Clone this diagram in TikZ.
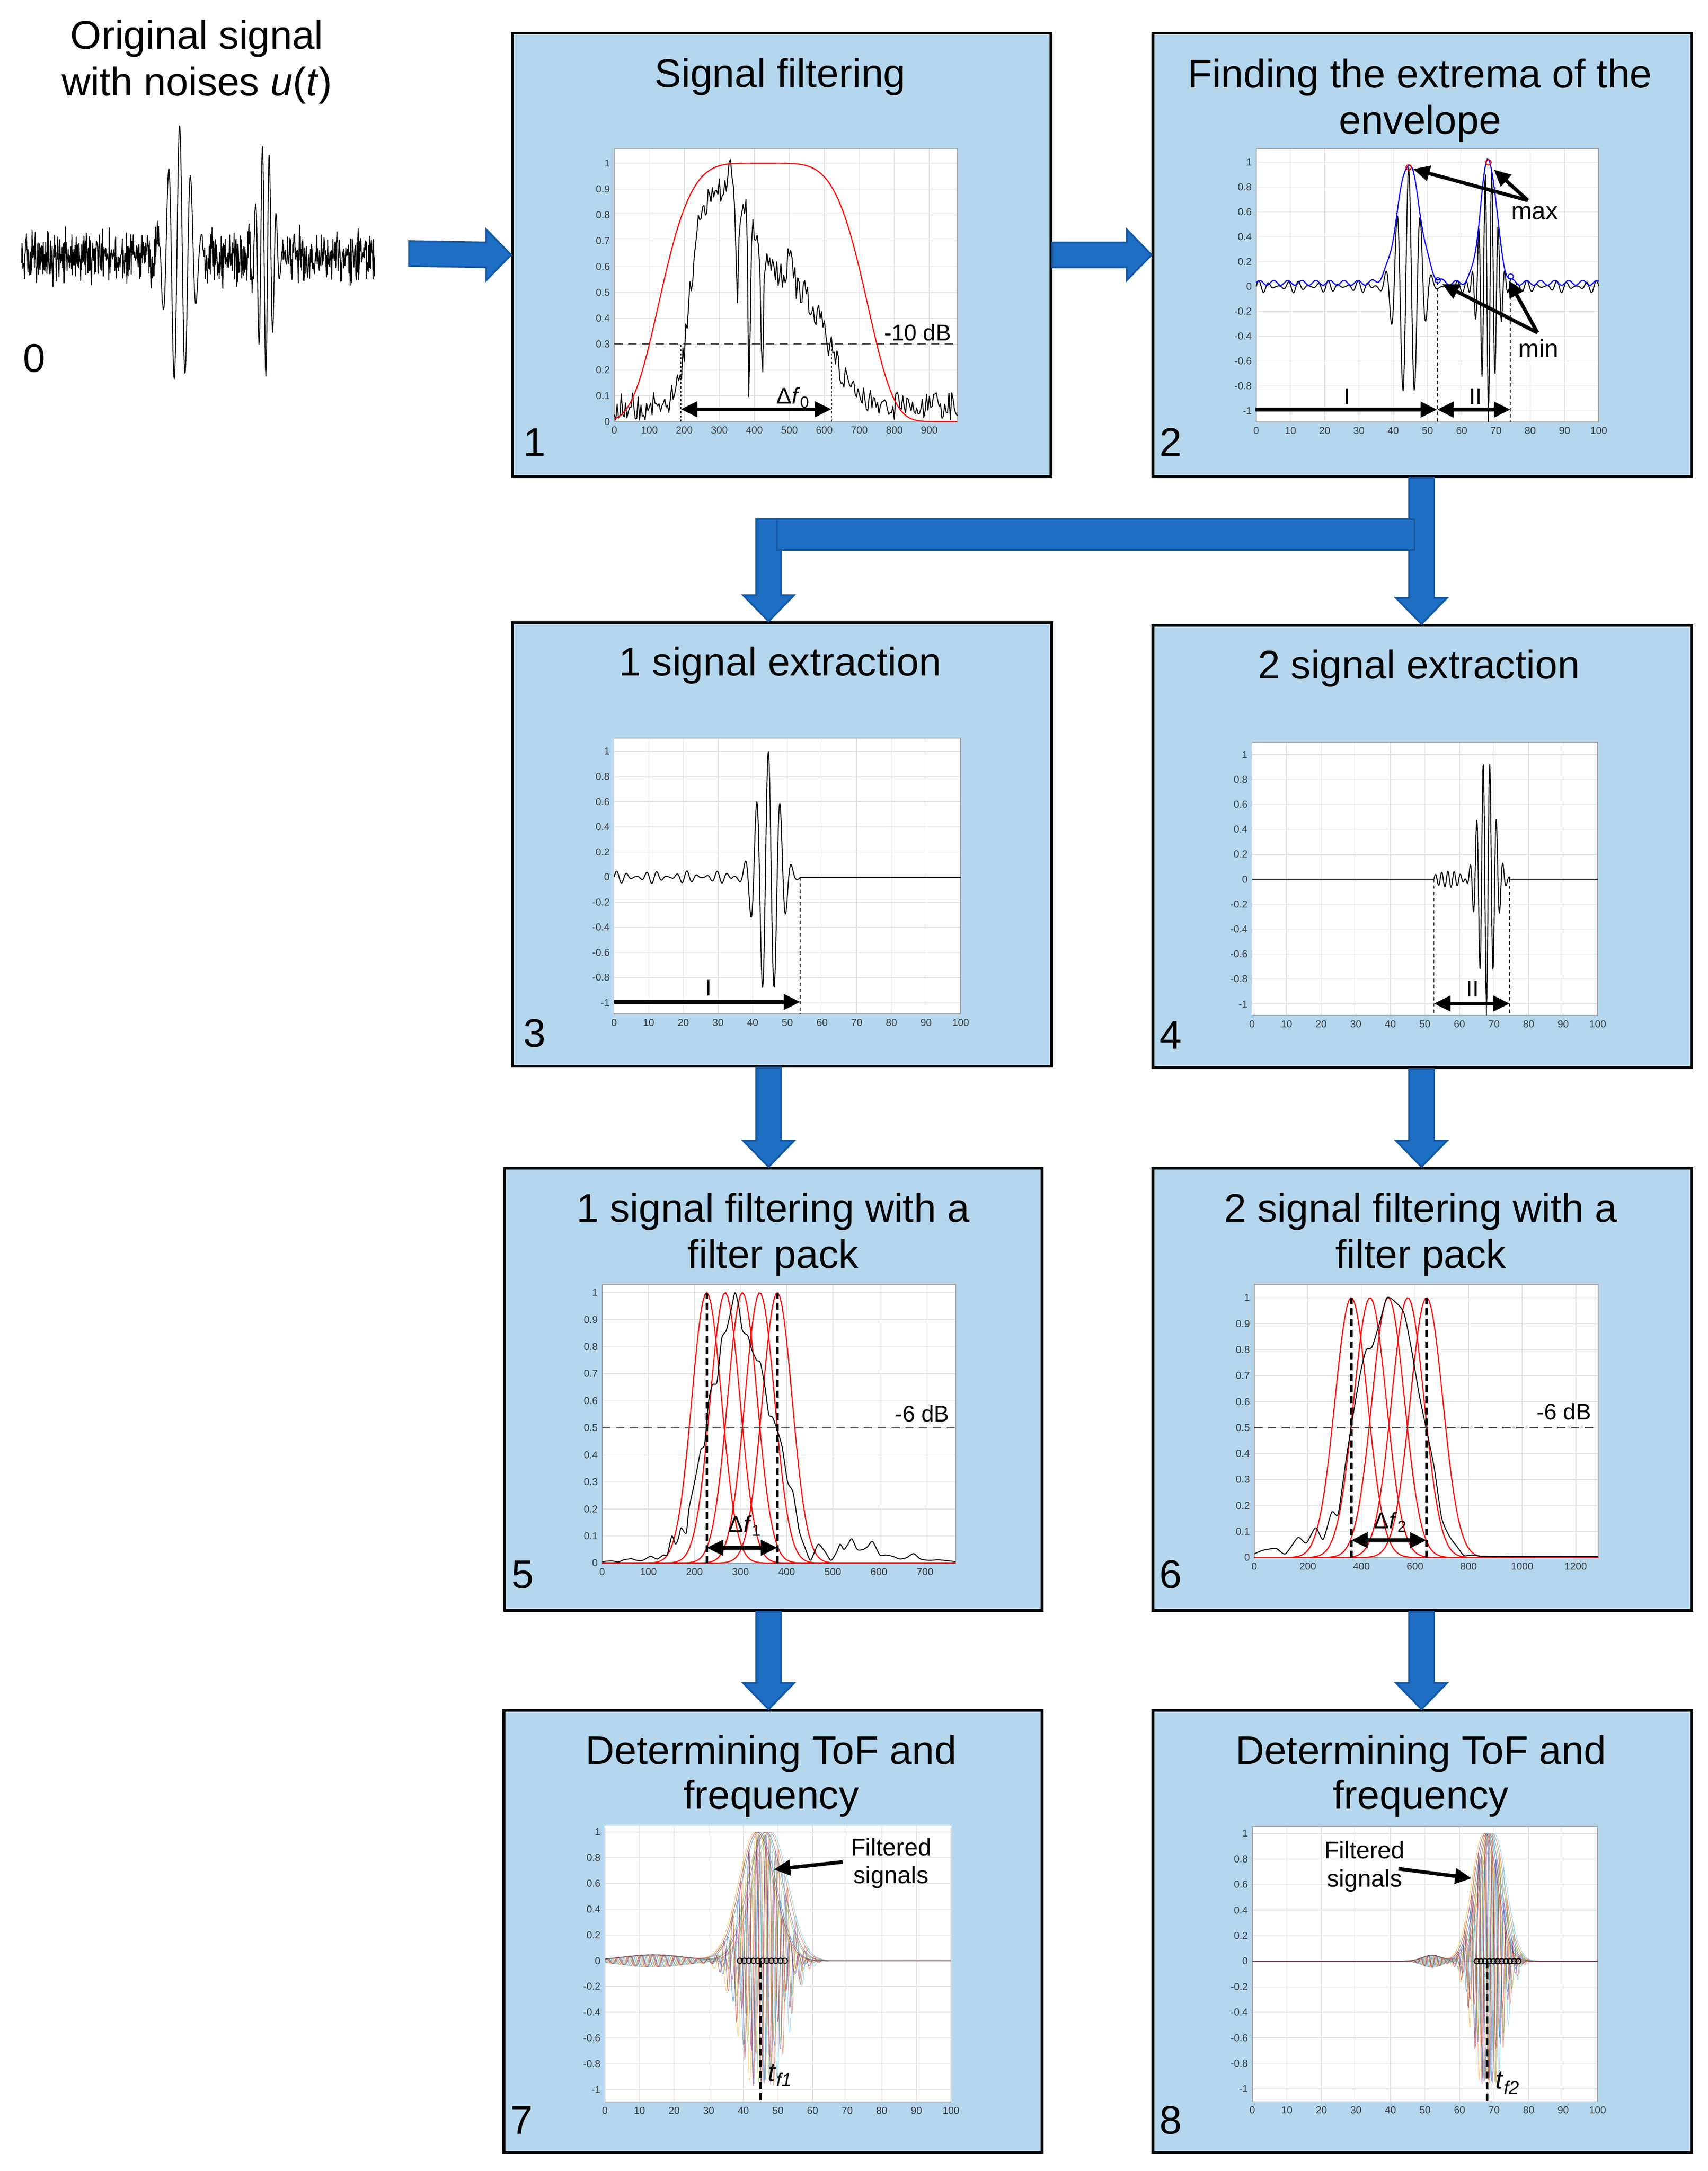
\documentclass[tikz,border=0pt]{standalone}
\usepackage{fontspec}
\setmainfont{Liberation Sans}
\usetikzlibrary{calc,arrows.meta}

\definecolor{boxblue}{RGB}{181,215,238}
\definecolor{arrfill}{RGB}{30,110,196}
\definecolor{arrline}{RGB}{22,88,165}
\definecolor{gridc}{RGB}{226,226,226}
\definecolor{framec}{RGB}{165,165,165}
\definecolor{tickc}{RGB}{55,55,55}
\definecolor{mblue}{rgb}{0,0.447,0.741}
\definecolor{morange}{rgb}{0.85,0.325,0.098}
\definecolor{myellow}{rgb}{0.929,0.694,0.125}
\definecolor{mpurple}{rgb}{0.494,0.184,0.556}
\definecolor{mgreen}{rgb}{0.466,0.674,0.188}
\definecolor{mcyan}{rgb}{0.301,0.745,0.933}
\definecolor{mred}{rgb}{0.635,0.078,0.184}

\tikzset{
  declare function={
    gss(\u)=exp(-1*pow(min(3.6,abs(\u)),2));
    sgm(\u)=1/(1+exp(-1*max(-9,min(9,\u))));
    bone(\x)=gss((\x-44.5)/4.6)*cos((\x-44.5)/3.4*360);
    btwo(\x)=-1*gss((\x-67.8)/3.3)*cos((\x-67.8)/1.9*360);
    nz(\x)=0.05*sin(\x/2.9*360)*(0.55+0.45*sin(\x/9.7*360+40));
    specone(\x)=(0.06+sgm((\x-215)/15)*(0.33*sgm((400-\x)/20)+0.5*sgm((610-\x)/35))+0.12*gss((\x-330)/8)+0.08*gss((\x-500)/12))*(1-0.95*gss((\x-385)/4))*(1-0.75*gss((\x-422)/5))*(1-0.45*gss((\x-352)/5));
    wn(\x)=sgm((116-\x)/1.2)+sgm((\x-148)/1.2)*sgm((184-\x)/1.2)+sgm((\x-206)/1.2);
  },
  stagebox/.style={draw=black, line width=2pt, fill=boxblue, anchor=north west, inner sep=0pt},
  titletext/.style={font=\fontsize{29}{33.5}\selectfont, align=center, inner sep=0pt},
  numtext/.style={font=\fontsize{29}{33}\selectfont, inner sep=0pt, anchor=base},
  blockarrow/.style={fill=arrfill, draw=arrline, line width=1.3pt, line join=miter},
  ticklab/.style={font=\fontsize{7.3}{8}\selectfont, text=tickc, inner xsep=3pt, inner ysep=3.5pt},
  gridline/.style={draw=gridc, line width=0.5pt},
  frameline/.style={draw=framec, line width=0.6pt},
  sig/.style={line width=0.7pt, black, line join=round},
  fsig/.style={line width=0.5pt, opacity=0.5, line join=round},
  fatarrow/.style={line width=2.6pt, -{Triangle[length=12pt,width=11pt]}},
  fatdarrow/.style={line width=2.6pt, {Triangle[length=12pt,width=11pt]}-{Triangle[length=12pt,width=11pt]}},
  annot/.style={font=\fontsize{16.5}{18}\selectfont, inner sep=0pt},
  flab/.style={font=\fontsize{17.5}{20.5}\selectfont, align=center, inner sep=0pt},
  tlab/.style={font=\fontsize{19}{20}\selectfont, inner sep=0pt},
  thindash/.style={line width=0.7pt, dash pattern=on 2.5pt off 2pt},
  thickdash/.style={line width=1.8pt, dash pattern=on 5pt off 3pt},
  levdash/.style={line width=0.9pt, dash pattern=on 6pt off 4pt, black!75},
  dotline/.style={line width=0.7pt, dash pattern=on 1.5pt off 1.5pt},
  mk/.style={circle, draw, inner sep=0pt, minimum size=4pt, line width=0.7pt},
}

\newcommand\plotframe[7]{%
  \fill[white] (#1,#3) rectangle (#2,#4);
  \foreach \tv in {#5} {\draw[gridline] (\tv,#3) -- (\tv,#4);}
  \foreach \tv in {#6} {\draw[gridline] (#1,\tv) -- (#2,\tv);}
  \draw[frameline] (#1,#3) rectangle (#2,#4);
  \foreach \tv [count=\ii] in {#5} {\node[ticklab, anchor=north] (#7x\ii) at (\tv,#3) {\tv};}
  \foreach \tv [count=\ii] in {#6} {\node[ticklab, anchor=east] (#7y\ii) at (#1,\tv) {\tv};}
}
\newcommand\blockR[2]{\draw[blockarrow] ($(#1)+(0,-9)$) -- ($(#2)+(-18,-9)$) -- ($(#2)+(-18,-18.5)$) -- (#2) -- ($(#2)+(-18,18.5)$) -- ($(#2)+(-18,9)$) -- ($(#1)+(0,9)$) -- cycle;}
\newcommand\blockD[2]{\draw[blockarrow] ($(#1)+(-9,0)$) -- ($(#2)+(-9,-19)$) -- ($(#2)+(-18.5,-19)$) -- (#2) -- ($(#2)+(18.5,-19)$) -- ($(#2)+(9,-19)$) -- ($(#1)+(9,0)$) -- cycle;}

\begin{document}
\begin{tikzpicture}[x=1pt,y=-1pt]
\useasboundingbox (0,0) rectangle (1240,1575.9);
\fill[white] (0,0) rectangle (1240,1575.9);

% ---------- stage boxes ----------
\node[stagebox, minimum width=391pt, minimum height=322pt] (b1) at (371,23) {};
\node[stagebox, minimum width=391pt, minimum height=322pt] (b2) at (836,23) {};
\node[stagebox, minimum width=391.5pt, minimum height=322pt] (b3) at (371,451) {};
\node[stagebox, minimum width=391pt, minimum height=321pt] (b4) at (836,453) {};
\node[stagebox, minimum width=390.2pt, minimum height=321pt] (b5) at (365.3,847) {};
\node[stagebox, minimum width=391pt, minimum height=321pt] (b6) at (836,847) {};
\node[stagebox, minimum width=390.7pt, minimum height=320.6pt] (b7) at (364.8,1240.7) {};
\node[stagebox, minimum width=391pt, minimum height=320.6pt] (b8) at (836,1240.7) {};

% ---------- titles ----------
\node[titletext, anchor=north] (t0) at (143,14.2) {Original signal\\[0.5pt]with noises \textit{u}(\textit{t})};
\node[titletext, anchor=base] (t1) at (566.5,63.3) {Signal filtering};
\node[titletext, anchor=north] (t2) at (1031,42.5) {Finding the extrema of the\\envelope};
\node[titletext, anchor=base] (t3) at (566.4,490.6) {1 signal extraction};
\node[titletext, anchor=base] (t4) at (1030,492.5) {2 signal extraction};
\node[titletext, anchor=north] (t5) at (561.3,865.9) {1 signal filtering with a\\filter pack};
\node[titletext, anchor=north] (t6) at (1031.5,865.9) {2 signal filtering with a\\filter pack};
\node[titletext, anchor=north] (t7) at (559.9,1259.5) {Determining ToF and\\[-1.2pt]frequency};
\node[titletext, anchor=north] (t8) at (1031.5,1259.5) {Determining ToF and\\[-1.2pt]frequency};

% ---------- numbers ----------
\node[numtext] (n0) at (25,270) {0};
\node[numtext] (n1) at (388,331) {1};
\node[numtext] (n2) at (850,331) {2};
\node[numtext] (n3) at (388,760) {3};
\node[numtext] (n4) at (850,761.4) {4};
\node[numtext] (n5) at (379.4,1153) {5};
\node[numtext] (n6) at (850,1153) {6};
\node[numtext] (n7) at (378.8,1549) {7};
\node[numtext] (n8) at (850,1549) {8};

% ---------- signal 0 ----------
\pgfmathsetseed{4242}
\begin{scope}[shift={(0,187)}, yscale=-96]
\draw[line width=0.65pt, line join=round] plot[domain=15.7:272, samples=880] (\x,{(0.14*rand+0.08*rand+0.05*rand)*wn(\x)+gss((\x-130)/12)*cos((\x-130.4)/8*360)+0.9*gss((\x-192.5)/8)*cos((\x-190.5)/5*360)});
\end{scope}

% ---------- plot 1 ----------
\begin{scope}[shift={(446,306)}, xscale=0.2541, yscale=-187.5]
\plotframe{0}{980}{0}{1.056}{0,100,200,300,400,500,600,700,800,900}{0,0.1,0.2,0.3,0.4,0.5,0.6,0.7,0.8,0.9,1}{pa}
\draw[levdash] (0,0.3) -- (980,0.3);
\draw[dotline] (190,0) -- (190,0.3);
\draw[dotline] (620,0) -- (620,0.3);
\pgfmathsetseed{17}
\draw[sig] plot[domain=0:980, samples=246] (\x,{max(0.004,specone(\x)+0.055*rand)});
\draw[red, line width=0.8pt] plot[domain=0:980, samples=160] (\x,{exp(-1*pow(abs((\x-425)/313),5))});
\coordinate (paL) at (190,0.048);
\coordinate (paR) at (620,0.048);
\draw[fatdarrow] (paL) -- (paR);
\node[annot, anchor=base west] (padf) at (463,0.068) {Δ\textit{f}\textsubscript{0}};
\node[annot, anchor=base east] (padb) at (963,0.313) {-10 dB};
\end{scope}

% ---------- plot 2 ----------
\begin{scope}[shift={(912,208)}, xscale=2.487, yscale=-90.1]
\plotframe{0}{100}{-1.09}{1.11}{0,10,20,30,40,50,60,70,80,90,100}{-1,-0.8,-0.6,-0.4,-0.2,0,0.2,0.4,0.6,0.8,1}{pb}
\draw[sig] plot[domain=0:100, samples=500] (\x,{0.96*bone(\x)+btwo(\x)+nz(\x)*max(0,1-gss((\x-44.5)/6)-gss((\x-67.8)/5))});
\draw[blue, line width=0.8pt] plot[domain=0:100, samples=250] (\x,{0.96*gss((\x-44.5)/4.6)+gss((\x-67.8)/3.3)+0.03+0.02*sin(\x/4.1*360)});
\draw[thindash] (52.8,0.04) -- (52.8,-1.09);
\draw[thindash] (74.2,0.07) -- (74.2,-1.09);
\draw[line width=0.8pt] (67.8,-1.09) -- (67.8,-0.9);
\node[mk, draw=red] (pbr1) at (44.5,0.96) {};
\node[mk, draw=red] (pbr2) at (67.8,1.0) {};
\node[mk, draw=blue] (pbc1) at (53,0.05) {};
\node[mk, draw=blue] (pbc2) at (74.3,0.08) {};
\coordinate (pbI0) at (-0.3,-1);
\coordinate (pbI1) at (52.8,-1);
\coordinate (pbI2) at (74.2,-1);
\draw[fatarrow] (pbI0) -- (pbI1);
\draw[fatdarrow] (pbI1) -- (pbI2);
\node[annot, anchor=base] (pbl1) at (26.6,-0.95) {I};
\node[annot, anchor=base] (pbl2) at (64,-0.95) {II};
\node[annot, font=\fontsize{18}{20}\selectfont, anchor=base] (pbmax) at (81.3,0.54) {max};
\node[annot, font=\fontsize{18}{20}\selectfont, anchor=base] (pbmin) at (82.4,-0.57) {min};
\coordinate (pbmx) at (79.3,0.70);
\coordinate (pbm1) at (45.8,0.955);
\coordinate (pbm2) at (69.4,0.95);
\draw[fatarrow] (pbmx) -- (pbm1);
\draw[fatarrow] (pbmx) -- (pbm2);
\coordinate (pbmn) at (82.1,-0.375);
\coordinate (pbn1) at (54.3,0.02);
\coordinate (pbn2) at (73.7,0.05);
\draw[fatarrow] (pbmn) -- (pbn1);
\draw[fatarrow] (pbmn) -- (pbn2);
\end{scope}

% ---------- plot 3 ----------
\begin{scope}[shift={(445.8,636.7)}, xscale=2.517, yscale=-91.2]
\plotframe{0}{100}{-1.09}{1.106}{0,10,20,30,40,50,60,70,80,90,100}{-1,-0.8,-0.6,-0.4,-0.2,0,0.2,0.4,0.6,0.8,1}{pc}
\draw[sig] plot[domain=0:53.6, samples=420] (\x,{bone(\x)+nz(\x)*max(0,1-gss((\x-44.5)/6))}) -- (53.6,0) -- (100,0);
\draw[thindash] (53.7,0) -- (53.7,-1.09);
\coordinate (pcI0) at (0,-1);
\coordinate (pcI1) at (53.7,-1);
\draw[fatarrow] (pcI0) -- (pcI1);
\node[annot, anchor=base] (pcl1) at (27.3,-0.945) {I};
\end{scope}

% ---------- plot 4 ----------
\begin{scope}[shift={(909,638.25)}, xscale=2.51, yscale=-90.55]
\plotframe{0}{100}{-1.09}{1.1}{0,10,20,30,40,50,60,70,80,90,100}{-1,-0.8,-0.6,-0.4,-0.2,0,0.2,0.4,0.6,0.8,1}{pd}
\draw[sig] (0,0) -- (52.6,0) -- plot[domain=52.6:74.5, samples=260] (\x,{btwo(\x)+0.065*sin((\x-52.6)/1.8*360)*gss((\x-57)/5.5)}) -- (74.5,0) -- (100,0);
\draw[line width=0.8pt] (67.8,-1.09) -- (67.8,-0.9);
\draw[thindash] (52.6,0) -- (52.6,-1.09);
\draw[thindash] (74.5,0) -- (74.5,-1.09);
\coordinate (pdI1) at (52.6,-1);
\coordinate (pdI2) at (74.5,-1);
\draw[fatdarrow] (pdI1) -- (pdI2);
\node[annot, anchor=base] (pdl2) at (63.8,-0.94) {II};
\end{scope}

% ---------- plot 5 ----------
\begin{scope}[shift={(437.2,1134.6)}, xscale=0.33486, yscale=-196.3]
\plotframe{0}{766}{0}{1.031}{0,100,200,300,400,500,600,700}{0,0.1,0.2,0.3,0.4,0.5,0.6,0.7,0.8,0.9,1}{pe}
\foreach \cc in {226.5,266.5,304,341.6,379.6} {\draw[red, line width=0.8pt] plot[domain=0:766, samples=170] (\x,{gss((\x-\cc)/45.6)});}
\draw[sig] plot[smooth, tension=0.4] coordinates {(0,0.005) (20,0.008) (35,0.004) (47,0.012) (63,0.016) (75,0.01) (88,0.01) (104,0.025) (112,0.02) (120,0.015) (133,0.03) (141,0.03) (151,0.1) (159,0.07) (165,0.09) (171,0.13) (182,0.11) (188,0.2) (198,0.28) (206,0.35) (214,0.42) (222,0.44) (231,0.6) (239,0.66) (249,0.67) (259,0.83) (269,0.86) (280,0.94) (288,1.0) (296,0.95) (304,0.86) (316,0.84) (324,0.79) (335,0.75) (343,0.74) (353,0.65) (361,0.55) (369,0.54) (378,0.5) (390,0.43) (402,0.3) (414,0.26) (427,0.12) (439,0.06) (451,0.01) (460,0.04) (469,0.07) (484,0.04) (496,0.01) (508,0.04) (516,0.07) (524,0.05) (533,0.07) (541,0.09) (553,0.05) (565,0.05) (575,0.06) (586,0.08) (602,0.03) (615,0.03) (630,0.025) (645,0.015) (660,0.02) (675,0.035) (690,0.015) (710,0.01) (730,0.012) (766,0.005)};
\draw[levdash] (0,0.5) -- (766,0.5);
\draw[thickdash] (226.5,0) -- (226.5,1);
\draw[thickdash] (379.6,0) -- (379.6,1);
\coordinate (peL) at (226.5,0.058);
\coordinate (peR) at (379.6,0.058);
\draw[fatdarrow] (peL) -- (peR);
\node[annot, anchor=base west] (pedf) at (273,0.114) {Δ\textit{f}\textsubscript{1}};
\node[annot, anchor=base east] (pedb) at (753,0.523) {-6 dB};
\end{scope}

% ---------- plot 6 ----------
\begin{scope}[shift={(910.6,1130.6)}, xscale=0.1945, yscale=-188.6]
\plotframe{0}{1284}{0}{1.052}{0,200,400,600,800,1000,1200}{0,0.1,0.2,0.3,0.4,0.5,0.6,0.7,0.8,0.9,1}{pf}
\foreach \cc in {362,432,500,573,643} {\draw[red, line width=0.8pt] plot[domain=0:1284, samples=190] (\x,{gss((\x-\cc)/86)});}
\draw[sig] plot[smooth, tension=0.4] coordinates {(0,0.014) (32,0.028) (81,0.035) (116,0.014) (163,0.077) (194,0.056) (229,0.115) (257,0.07) (289,0.175) (313,0.168) (341,0.365) (369,0.55) (397,0.715) (418,0.8) (439,0.81) (467,0.9) (495,1.0) (530,0.98) (559,0.94) (587,0.8) (615,0.63) (643,0.49) (671,0.35) (699,0.155) (727,0.084) (762,0.035) (783,0.007) (811,0.01) (839,0.006) (900,0.005) (1000,0.004) (1284,0.003)};
\draw[levdash] (0,0.5) -- (1284,0.5);
\draw[thickdash] (362,0) -- (362,1);
\draw[thickdash] (643,0) -- (643,1);
\coordinate (pfL) at (362,0.067);
\coordinate (pfR) at (643,0.067);
\draw[fatdarrow] (pfL) -- (pfR);
\node[annot, anchor=base west] (pfdf) at (446,0.112) {Δ\textit{f}\textsubscript{2}};
\node[annot, anchor=base east] (pfdb) at (1258,0.53) {-6 dB};
\end{scope}

% ---------- plot 7 ----------
\begin{scope}[shift={(439.2,1423.3)}, xscale=2.512, yscale=-93.5]
\plotframe{0}{100}{-1.095}{1.052}{0,10,20,30,40,50,60,70,80,90,100}{-1,-0.8,-0.6,-0.4,-0.2,0,0.2,0.4,0.6,0.8,1}{pg}
\foreach \cc/\pp/\cl/\qq in {44.5/3.0/mblue/0, 47.5/2.6/morange/60, 43.5/3.4/myellow/120, 46.5/2.8/mpurple/180, 46/3.2/mgreen/240, 48/3.6/mcyan/300, 44/2.4/mred/30} {
  \draw[fsig, \cl] plot[domain=0:66, samples=300] (\x,{gss((\x-\cc)/7)*cos((\x-\cc)/\pp*360)+0.05*gss((\x-14)/13)*sin(\x/3.3*360+\qq)}) -- (100,0);
  \draw[fsig, \cl] plot[domain=0:66, samples=80] (\x,{gss((\x-\cc)/7)+0.045*gss((\x-14)/13)}) -- (100,0);
}
\foreach \m [count=\ii] in {39,40.3,41.6,42.9,44.2,45.5,46.8,48.1,49.4,50.7,52} {\node[mk, draw=black] (pgm\ii) at (\m,0) {};}
\coordinate (pgt0) at (45,0);
\coordinate (pgt1) at (45,-1.095);
\draw[thickdash] (pgt0) -- (pgt1);
\node[tlab, anchor=base west] (pgtf) at (47.1,-0.935) {\textit{t}\textsubscript{\textit{f1}}};
\node[flab, anchor=north] (pgfs) at (82.7,0.956) {Filtered\\signals};
\coordinate (pga0) at (68.7,0.775);
\coordinate (pga1) at (48.8,0.716);
\draw[fatarrow] (pga0) -- (pga1);
\end{scope}

% ---------- plot 8 ----------
\begin{scope}[shift={(909.2,1423.6)}, xscale=2.507, yscale=-92.7]
\plotframe{0}{100}{-1.1}{1.053}{0,10,20,30,40,50,60,70,80,90,100}{-1,-0.8,-0.6,-0.4,-0.2,0,0.2,0.4,0.6,0.8,1}{ph}
\foreach \cc/\pp/\cl/\qq in {68/2.4/mblue/0, 69.5/2.1/morange/60, 67/2.7/myellow/120, 68.5/2.2/mpurple/180, 69/2.5/mgreen/240, 70/2.8/mcyan/300, 67.5/2.0/mred/30} {
  \draw[fsig, \cl] (0,0) -- plot[domain=40:84, samples=260] (\x,{gss((\x-\cc)/5)*cos((\x-\cc)/\pp*360)+0.05*gss((\x-52)/4)*sin(\x/2.2*360+\qq)}) -- (100,0);
  \draw[fsig, \cl] (0,0) -- plot[domain=40:84, samples=80] (\x,{gss((\x-\cc)/5)+0.045*gss((\x-52)/4)}) -- (100,0);
}
\foreach \m [count=\ii] in {65,66.2,67.4,68.6,69.8,71,72.2,73.4,74.6,75.8,77} {\node[mk, draw=black] (phm\ii) at (\m,0) {};}
\coordinate (pht0) at (68,0);
\coordinate (pht1) at (68,-1.1);
\draw[thickdash] (pht0) -- (pht1);
\node[tlab, anchor=base west] (phtf) at (70.4,-1.0) {\textit{t}\textsubscript{\textit{f2}}};
\node[flab, anchor=north] (phfs) at (32.5,0.941) {Filtered\\signals};
\coordinate (pha0) at (42.3,0.73);
\coordinate (pha1) at (63.5,0.655);
\draw[fatarrow] (pha0) -- (pha1);
\end{scope}

% ---------- block arrows ----------
\coordinate (colL) at (558,0);
\coordinate (colR) at (1032,0);
\coordinate (a01s) at (297,184);
\blockR{a01s}{b1.west}
\blockR{b1.east}{b2.west}

\coordinate (spR) at (b2.south -| colR);
\coordinate (a24e) at (b4.north -| colR);
\coordinate (a23s) at (558,377);
\coordinate (a23e) at (b3.north -| colL);
\blockD{spR}{a24e}
\blockD{a23s}{a23e}
\coordinate (hbL) at (564,377);
\coordinate (hbR) at (1027,399);
\draw[blockarrow] (hbL) rectangle (hbR);

\coordinate (a35s) at (b3.south -| colL);
\coordinate (a35e) at (b5.north -| colL);
\blockD{a35s}{a35e}
\coordinate (a46s) at (b4.south -| colR);
\coordinate (a46e) at (b6.north -| colR);
\blockD{a46s}{a46e}
\coordinate (a57s) at (b5.south -| colL);
\coordinate (a57e) at (b7.north -| colL);
\blockD{a57s}{a57e}
\coordinate (a68s) at (b6.south -| colR);
\coordinate (a68e) at (b8.north -| colR);
\blockD{a68s}{a68e}

\end{tikzpicture}
\end{document}
